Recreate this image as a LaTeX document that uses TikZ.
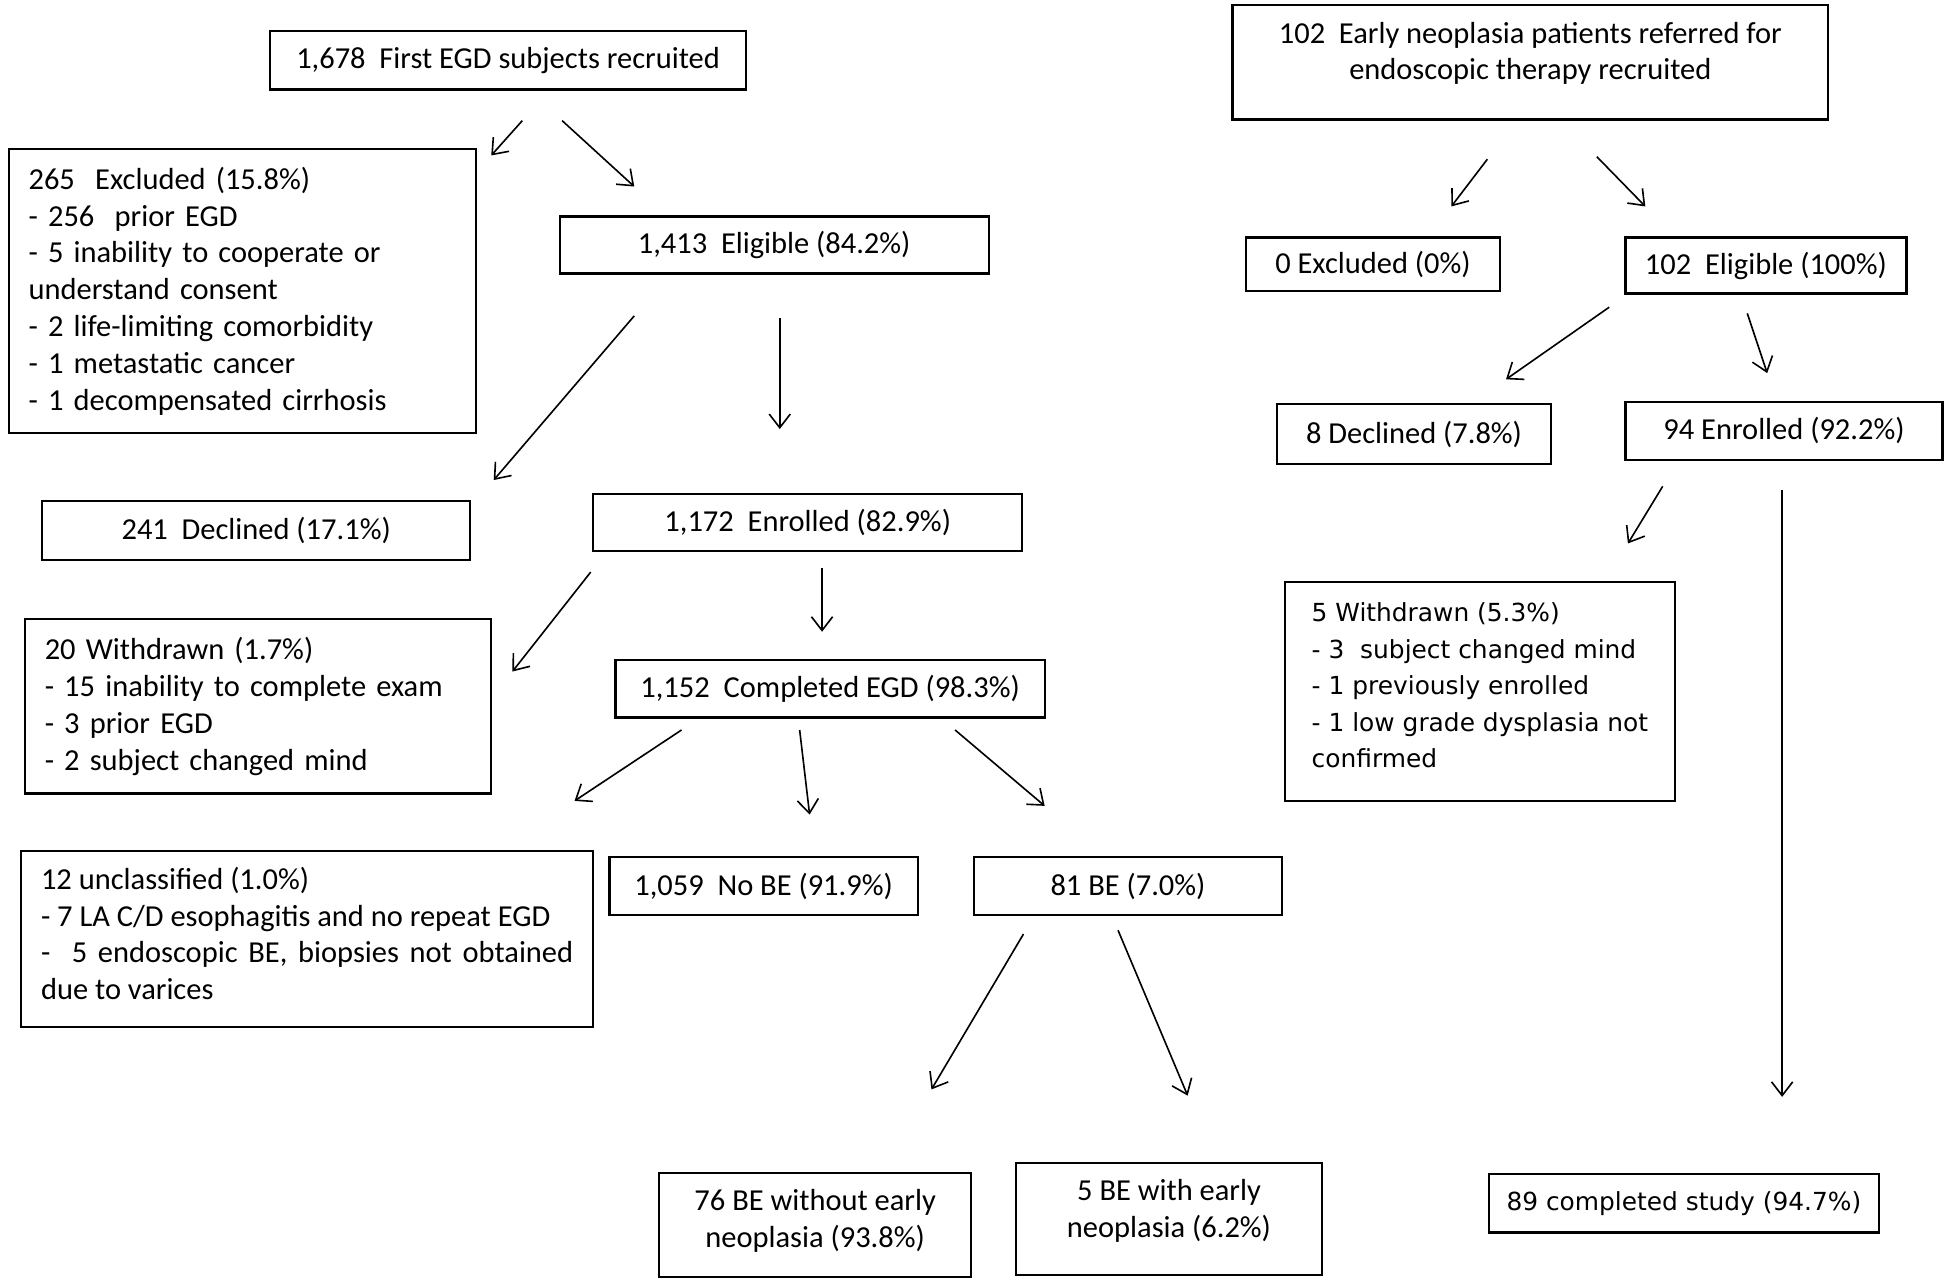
\documentclass[tikz,border=0pt]{standalone}
\usepackage{fontspec}
\setmainfont{Carlito}
\newfontfamily\widefont{DejaVu Sans}
\usetikzlibrary{arrows.meta}
\tikzset{
  box/.style={draw,line width=1.8pt,align=center,inner sep=4pt},
  listbox/.style={box,align=left,inner xsep=16pt},
  arr/.style={line width=1.3pt,-{Straight Barb[length=11pt,width=17pt]}},
  wide/.style={font=\widefont\fontsize{20}{29.3}\selectfont}
}

\begin{document}
\begin{tikzpicture}[x=1pt,y=-1pt,font=\fontsize{24.5}{29.6}\selectfont]
\useasboundingbox (0,0) rectangle (1568,1032);
% first EGD arm
\node[box,minimum width=383pt,minimum height=47pt] (recr) at (408.5,48.5) {1,678\ \ First EGD subjects recruited};
\node[listbox,text width=344pt,minimum width=376pt,minimum height=228pt] (excl) at (195,234) {265\ \ Excluded (15.8\%)\\- 256\ \ prior EGD\\- 5 inability to cooperate or\\understand consent\\- 2 life-limiting comorbidity\\- 1 metastatic cancer\\- 1 decompensated cirrhosis};
\node[box,minimum width=345pt,minimum height=46pt] (elig) at (622.5,197) {1,413\ \ Eligible (84.2\%)};
\node[box,minimum width=344pt,minimum height=47pt] (decl) at (206,426.5) {241\ \ Declined (17.1\%)};
\node[box,minimum width=345pt,minimum height=46pt] (enrol) at (649.5,420) {1,172\ \ Enrolled (82.9\%)};
\node[listbox,text width=343pt,minimum width=375pt,minimum height=140pt] (wdr) at (207.5,568) {20 Withdrawn (1.7\%)\\- 15 inability to complete exam\\- 3 prior EGD\\- 2 subject changed mind};
\node[box,minimum width=345pt,minimum height=46pt] (compl) at (667.5,554) {1,152\ \ Completed EGD (98.3\%)};
\node[box,align=left,minimum width=460pt,minimum height=142pt,text depth=9pt] (uncl) at (247,755) {12 unclassified (1.0\%)\\- 7 LA C/D esophagitis and no repeat EGD\\\makebox[428pt][s]{- \ 5 endoscopic BE, biopsies not obtained}\\due to varices};
\node[box,minimum width=248pt,minimum height=47pt] (nobe) at (614,712.5) {1,059\ \ No BE (91.9\%)};
\node[box,minimum width=248pt,minimum height=47pt] (be) at (907,712.5) {81 BE (7.0\%)};
\node[box,minimum width=251pt,minimum height=84pt,text depth=10pt] (bewo) at (655.5,985) {76 BE without early\\neoplasia (93.8\%)};
\node[box,minimum width=246pt,minimum height=90pt,text depth=16pt] (bewi) at (940,980) {5 BE with early\\neoplasia (6.2\%)};
% early neoplasia arm
\node[box,minimum width=479pt,minimum height=92pt,text depth=18pt] (refd) at (1230.5,50) {102\ \ Early neoplasia patients referred for\\endoscopic therapy recruited};
\node[box,minimum width=204pt,minimum height=43pt] (rexcl) at (1104,212.5) {0 Excluded (0\%)};
\node[box,minimum width=226pt,minimum height=45pt] (relig) at (1420,213.5) {102\ \ Eligible (100\%)};
\node[box,minimum width=220pt,minimum height=48pt] (rdecl) at (1137,349) {8 Declined (7.8\%)};
\node[box,minimum width=255pt,minimum height=47pt] (renrol) at (1434.5,346.5) {94 Enrolled (92.2\%)};
\node[box,wide,align=left,minimum width=314pt,minimum height=176pt,text depth=10pt] (rwdr) at (1190,556) {5 Withdrawn (5.3\%)\\- 3\ \ subject changed mind\\- 1 previously enrolled\\- 1 low grade dysplasia not\\confirmed};
\node[box,wide,minimum width=314pt,minimum height=47pt] (rcompl) at (1354,967.5) {89 completed study (94.7\%)};
% arrow ends
\coordinate (s1) at (420,97);   \coordinate (t1) at (395,125);
\coordinate (s2) at (452,97);   \coordinate (t2) at (510,150);
\coordinate (s3) at (510,254);  \coordinate (t3) at (397,386);
\coordinate (s4) at (627,256);  \coordinate (t4) at (627,345);
\coordinate (s5) at (475,460);  \coordinate (t5) at (412,540);
\coordinate (s6) at (661,457);  \coordinate (t6) at (661,508);
\coordinate (s7) at (548,587);  \coordinate (t7) at (462,644);
\coordinate (s8) at (643,587);  \coordinate (t8) at (651,655);
\coordinate (s9) at (768,587);  \coordinate (t9) at (840,648);
\coordinate (s10) at (823,751); \coordinate (t10) at (749,876);
\coordinate (s11) at (899,748); \coordinate (t11) at (955,881);
\coordinate (s12) at (1196,128); \coordinate (t12) at (1167,166);
\coordinate (s13) at (1284,126); \coordinate (t13) at (1323,166);
\coordinate (s14) at (1294,247); \coordinate (t14) at (1211,305);
\coordinate (s15) at (1405,252); \coordinate (t15) at (1421,300);
\coordinate (s16) at (1337,391); \coordinate (t16) at (1309,437);
\coordinate (s17) at (1433,394); \coordinate (t17) at (1433,882);
\draw[arr] (s1) -- (t1);
\draw[arr] (s2) -- (t2);
\draw[arr] (s3) -- (t3);
\draw[arr] (s4) -- (t4);
\draw[arr] (s5) -- (t5);
\draw[arr] (s6) -- (t6);
\draw[arr] (s7) -- (t7);
\draw[arr] (s8) -- (t8);
\draw[arr] (s9) -- (t9);
\draw[arr] (s10) -- (t10);
\draw[arr] (s11) -- (t11);
\draw[arr] (s12) -- (t12);
\draw[arr] (s13) -- (t13);
\draw[arr] (s14) -- (t14);
\draw[arr] (s15) -- (t15);
\draw[arr] (s16) -- (t16);
\draw[arr] (s17) -- (t17);
\end{tikzpicture}
\end{document}
